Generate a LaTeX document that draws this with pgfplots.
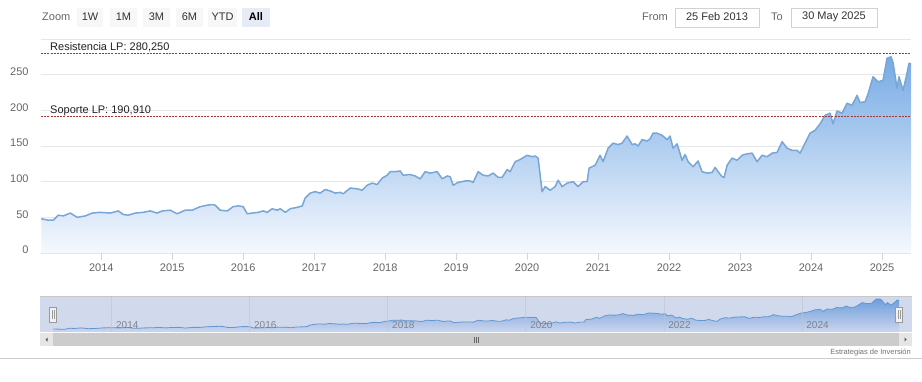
\documentclass[border=0pt]{standalone}
\usepackage{pgfplots}
\pgfplotsset{compat=1.18}
\usepackage{pgfplotstable}
\usepackage{fontspec}
\setmainfont{Liberation Sans}
\definecolor{gridcolor}{RGB}{230,230,230}
\definecolor{axiscolor}{RGB}{204,214,235}
\definecolor{labelgray}{RGB}{102,102,102}
\definecolor{resgreen}{RGB}{45,115,45}
\definecolor{supred}{RGB}{160,55,55}
\definecolor{linecolor}{RGB}{120,166,214}
\definecolor{areatop}{RGB}{118,170,228}
\definecolor{areabot}{RGB}{246,249,254}
\definecolor{maskfill}{RGB}{209,218,237}
\definecolor{navline}{RGB}{100,150,210}
\definecolor{navtop}{RGB}{110,158,220}
\definecolor{navbot}{RGB}{203,214,237}
\definecolor{btnfill}{RGB}{247,247,247}
\definecolor{btnsel}{RGB}{230,235,245}
\definecolor{txtdark}{RGB}{51,51,51}

\pgfplotstableread{
x y
2013.155 48
2013.254 46
2013.324 46
2013.394 53
2013.465 52
2013.563 56
2013.662 50
2013.775 52
2013.873 56
2013.986 57
2014.127 56
2014.239 59
2014.310 54
2014.380 53
2014.479 56
2014.592 57
2014.690 59
2014.789 56
2014.859 59
2014.972 60
2015.070 55
2015.183 60
2015.282 60
2015.394 65
2015.493 67
2015.563 68
2015.606 67
2015.676 60
2015.775 59
2015.859 65
2015.930 66
2016.000 65
2016.056 55
2016.127 56
2016.211 57
2016.282 59
2016.338 57
2016.408 62
2016.479 60
2016.521 62
2016.592 57
2016.662 62
2016.761 64
2016.831 66
2016.873 77
2016.944 84
2017.014 86
2017.085 84
2017.155 89
2017.225 87
2017.296 84
2017.366 85
2017.408 83
2017.507 91
2017.606 90
2017.676 88
2017.746 95
2017.817 98
2017.887 96
2017.958 105
2018.028 109
2018.070 114
2018.141 114
2018.211 115
2018.254 109
2018.352 110
2018.423 108
2018.493 104
2018.563 114
2018.634 112
2018.732 114
2018.803 104
2018.873 108
2018.915 107
2018.958 95
2019.028 99
2019.127 101
2019.197 101
2019.239 99
2019.310 114
2019.380 109
2019.451 108
2019.521 112
2019.592 106
2019.648 106
2019.718 117
2019.761 114
2019.831 128
2019.901 131
2020.000 137
2020.070 135
2020.113 136
2020.155 133
2020.211 86
2020.254 93
2020.324 88
2020.394 93
2020.437 102
2020.493 93
2020.563 98
2020.648 100
2020.718 93
2020.789 100
2020.845 100
2020.873 119
2020.958 123
2021.028 137
2021.070 128
2021.141 147
2021.211 154
2021.282 152
2021.338 154
2021.408 164
2021.479 152
2021.521 153
2021.563 150
2021.620 159
2021.690 157
2021.732 160
2021.775 168
2021.831 168
2021.901 165
2021.972 159
2022.014 164
2022.056 147
2022.113 153
2022.183 130
2022.225 138
2022.268 128
2022.338 121
2022.408 129
2022.465 114
2022.535 112
2022.606 113
2022.648 120
2022.690 114
2022.746 107
2022.775 106
2022.817 123
2022.887 133
2022.958 130
2023.028 137
2023.099 139
2023.169 140
2023.239 128
2023.310 137
2023.380 135
2023.451 140
2023.521 141
2023.592 156
2023.662 147
2023.732 144
2023.803 144
2023.845 140
2023.915 154
2023.986 168
2024.056 172
2024.127 181
2024.197 193
2024.268 196
2024.310 181
2024.366 199
2024.437 196
2024.507 210
2024.577 207
2024.648 221
2024.690 211
2024.761 212
2024.803 223
2024.873 247
2024.944 240
2025.014 242
2025.070 273
2025.127 275
2025.155 267
2025.211 231
2025.239 247
2025.296 228
2025.352 252
2025.380 266
2025.408 265
}\pricedata

\begin{document}
\begin{tikzpicture}
\fill[white] (0,0) rectangle (922pt,381pt);
\path[use as bounding box] (0,0) rectangle (922pt,381pt);

% ---- top controls ----
\begin{scope}[font=\fontsize{11}{13}\selectfont]
\node[anchor=west, text=labelgray, inner sep=0] at (42pt,364pt) {Zoom};
\foreach \a/\b/\t in {77/103/1W, 110/137/1M, 143/170/3M, 176/203/6M, 208/237/YTD}{
  \fill[btnfill] (\a pt,354pt) rectangle (\b pt,373pt);
  \node[text=txtdark, inner sep=0] at ({(\a+\b)/2*1pt},364pt) {\t};
}
\fill[btnsel] (242pt,354pt) rectangle (270pt,373pt);
\node[text=black, inner sep=0] at (256pt,364pt) {\bfseries All};
\node[anchor=west, text=labelgray, inner sep=0] at (642pt,364pt) {From};
\draw[gridcolor!80!gray, fill=white] (675pt,354pt) rectangle (759pt,373pt);
\node[text=txtdark, inner sep=0] at (717pt,364pt) {25 Feb 2013};
\node[anchor=west, text=labelgray, inner sep=0] at (771pt,364pt) {To};
\draw[gridcolor!80!gray, fill=white] (791pt,354pt) rectangle (877pt,373pt);
\node[text=txtdark, inner sep=0] at (834pt,364pt) {30 May 2025};
\end{scope}

% ---- main chart ----
\begin{axis}[
  at={(41pt,128pt)}, anchor=south west,
  scale only axis, width=870pt, height=214pt,
  xmin=2013.151, xmax=2025.408, ymin=0, ymax=300,
  axis x line*=bottom, axis y line*=left,
  x axis line style={draw=axiscolor, line width=1pt},
  y axis line style={draw=none},
  xtick={2014,2015,...,2025},
  xticklabels={2014,2015,2016,2017,2018,2019,2020,2021,2022,2023,2024,2025},
  ytick={0,50,100,150,200,250,300},
  yticklabels={0,50,100,150,200,250,{}},
  tick align=outside, major tick length=7pt,
  xtick style={draw=axiscolor, line width=0.8pt},
  ytick style={draw=none},
  ymajorgrids, grid style={draw=gridcolor, line width=0.8pt},
  tick label style={font=\fontsize{11}{13}\selectfont, text=labelgray},
  yticklabel style={xshift=-2pt, yshift=3pt},
  /pgf/number format/assume math mode=true,
]
\addplot[draw=none, top color=areatop, bottom color=areabot] table {\pricedata} \closedcycle;
\addplot[linecolor, line width=1.5pt, line join=round] table {\pricedata};
\addplot[resgreen, line width=0.8pt, dash pattern=on 2pt off 1.2pt] coordinates {(2013.151,280.25) (2025.408,280.25)};
\addplot[supred, line width=0.8pt, dash pattern=on 2pt off 1.2pt] coordinates {(2013.151,190.91) (2025.408,190.91)};
\node[anchor=base west, inner sep=0, font=\fontsize{11}{13}\selectfont, text=black!87] at (axis cs:2013.278,280.25) [yshift=3pt] {Resistencia LP: 280,250};
\node[anchor=base west, inner sep=0, font=\fontsize{11}{13}\selectfont, text=black!87] at (axis cs:2013.278,190.91) [yshift=3pt] {Soporte LP: 190,910};
\end{axis}

% ---- navigator ----
\fill[maskfill] (40pt,49pt) rectangle (912pt,85pt);
\draw[gridcolor!70!gray, line width=0.6pt] (40pt,85pt) -- (912pt,85pt);
\begin{axis}[
  at={(53pt,49pt)}, anchor=south west,
  scale only axis, width=846pt, height=36pt,
  xmin=2013.151, xmax=2025.408, ymin=25, ymax=297,
  axis on top,
  axis line style={draw=none},
  xtick={2014,2016,...,2024},
  xticklabels={2014,2016,2018,2020,2022,2024},
  ytick=\empty,
  major tick length=0pt,
  xmajorgrids, grid style={draw=navbot!80!gray, line width=0.5pt, opacity=0.6},
  xticklabel style={anchor=south west, xshift=1pt, yshift=0pt, font=\fontsize{10}{12}\selectfont, text=labelgray!75!maskfill},
  /pgf/number format/assume math mode=true,
  clip=false,
]
\addplot[draw=none, top color=navtop, bottom color=navbot] table {\pricedata} \closedcycle;
\addplot[navline, line width=0.8pt] table {\pricedata};
\end{axis}
% handles
\foreach \hx in {53,899}{
  \draw[gray!80, fill=white!95!black, line width=0.6pt] ({(\hx-3.5)*1pt},59pt) rectangle ({(\hx+3.5)*1pt},74pt);
  \draw[gray!80, line width=0.6pt] ({(\hx-1)*1pt},62pt) -- ({(\hx-1)*1pt},71pt);
  \draw[gray!80, line width=0.6pt] ({(\hx+1)*1pt},62pt) -- ({(\hx+1)*1pt},71pt);
}
% scrollbar
\fill[black!20] (53pt,35pt) rectangle (899pt,48pt);
\fill[black!10] (40pt,35pt) rectangle (53pt,48pt);
\fill[black!10] (899pt,35pt) rectangle (912pt,48pt);
\fill[black!65] (45.5pt,41.5pt) -- (47.5pt,39.5pt) -- (47.5pt,43.5pt) -- cycle;
\fill[black!65] (906.5pt,41.5pt) -- (904.5pt,39.5pt) -- (904.5pt,43.5pt) -- cycle;
\foreach \gx in {474,476,478}{
  \draw[black!60, line width=0.6pt] (\gx pt,38.5pt) -- (\gx pt,44.5pt);
}
% credits
\node[anchor=base east, inner sep=0, font=\fontsize{7.5}{9}\selectfont, text=black!55] at (911pt,27pt) {Estrategias de Inversión};
\draw[black!20, line width=1pt] (0,23pt) -- (922pt,23pt);
\end{tikzpicture}
\end{document}
